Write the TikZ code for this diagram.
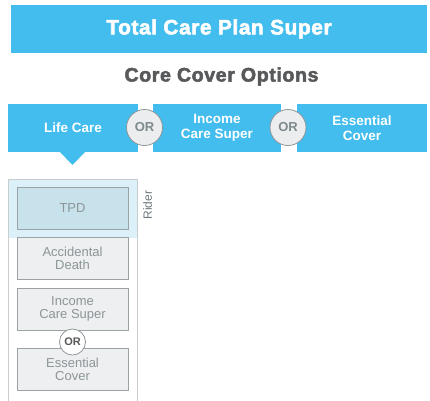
\documentclass[tikz,border=0pt]{standalone}
\usepackage{fontspec}
\setmainfont{Liberation Sans}
\newfontfamily\heavyfont[FakeBold=2.5,LetterSpace=3]{Liberation Sans}
\definecolor{planblue}{HTML}{43BDEE}
\definecolor{headgray}{HTML}{58595B}
\definecolor{orfill}{HTML}{ECEDEE}
\definecolor{orline}{HTML}{8E9698}
\definecolor{ortext}{HTML}{7E8A8D}
\definecolor{boxfill}{HTML}{EEEFF0}
\definecolor{boxline}{HTML}{9CA3A5}
\definecolor{boxtext}{HTML}{8C9598}
\definecolor{ridertext}{HTML}{6E787B}
\definecolor{riderfill}{HTML}{DCF0F9}
\definecolor{tpdfill}{HTML}{C8E2EB}
\definecolor{frameline}{HTML}{C9CDCE}
\usetikzlibrary{positioning}
\tikzset{
  optbox/.style={fill=planblue, text=white, minimum height=48pt, align=center,
    font=\fontsize{13.5}{15}\selectfont\bfseries, inner sep=0pt},
  orcircle/.style={circle, fill=orfill, draw=orline, line width=0.8pt,
    minimum size=36pt, inner sep=0pt, text=ortext, font=\fontsize{13}{13}\selectfont\bfseries},
  coverbox/.style={fill=boxfill, draw=boxline, line width=0.8pt, minimum width=111pt,
    minimum height=42pt, align=center, text=boxtext, inner sep=0pt,
    font=\fontsize{13}{13.5}\selectfont},
}
\begin{document}
\begin{tikzpicture}[x=1pt,y=-1pt]
    \useasboundingbox (0,0) rectangle (430,400);

    % draw the title banner
    \node[fill=planblue, minimum width=416pt, minimum height=48pt, inner sep=0pt,
      text=white, font=\fontsize{20.8}{20.8}\selectfont\heavyfont\bfseries] (title) at (219,29) {Total Care Plan Super};
    \node[text=headgray, font=\fontsize{19.6}{19.6}\selectfont\heavyfont\bfseries] (core) at (221.5,76.5) {Core Cover Options};

    % draw the core cover options
    \node[optbox, minimum width=130pt] (life) at (73,128) {Life Care};
    \node[optbox, minimum width=128pt] (income) at (217,128) {Income\\Care Super};
    \node[optbox, minimum width=130pt] (essential) at (362,128) {Essential\\Cover};
    \fill[planblue] (59,151) -- (86,151) -- (72.5,165) -- cycle;

    % the or circles between the options
    \foreach \x/\name in {144.5/ora, 288/orb}
        \node[orcircle] (\name) at (\x,127.5) {OR};

    % draw the rider frame
    \fill[riderfill] (8,179) rectangle (137,238);
    \draw[frameline, line width=0.8pt] (8,402) -- (8,179) -- (137,179) -- (137,402);
    \node[coverbox, fill=tpdfill] (tpd) at (72.5,208) {TPD};
    \node[rotate=90, text=ridertext, font=\fontsize{12}{12}\selectfont] (rider) at (147.5,205) {Rider};

    % draw the boxes under life care
    \foreach \y/\name/\txt in {258.5/accident/Accidental\\Death,
        309/incbox/Income\\Care Super,
        369.5/essbox/Essential\\Cover}
        \node[coverbox] (\name) at (72.5,\y) {\txt};
    \node[orcircle, fill=white, minimum size=26pt, text=headgray,
      font=\fontsize{11}{11}\selectfont\bfseries] (orc) at (72.5,342) {OR};
\end{tikzpicture}
\end{document}
